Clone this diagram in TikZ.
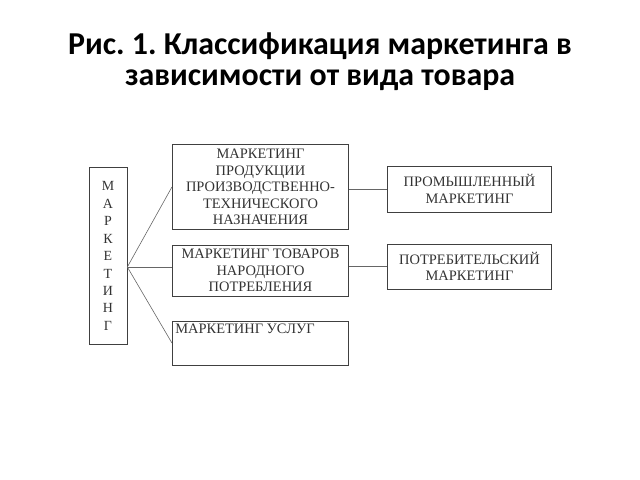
\documentclass[tikz,border=0pt]{standalone}
\usepackage{fontspec}
\setmainfont{Liberation Serif}
\newfontfamily\titlefont{Carlito}
\usetikzlibrary{positioning}

\begin{document}
\frenchspacing
\begin{tikzpicture}[x=1bp,y=-1bp,
  box/.style={draw=black!75,line width=0.8bp,rectangle,inner sep=0pt,
    text=black!80,align=center,font=\fontsize{14.5}{16.7}\selectfont},
  link/.style={draw=black!60,line width=0.6bp}]
\useasboundingbox (0,0) rectangle (640,480);

\node[font=\titlefont\bfseries\fontsize{32}{31}\selectfont,align=center] (title) at (320,62)
  {Рис. 1. Классификация маркетинга в\\зависимости от вида товара};

\path
(108,256)   node[box,minimum width=38,minimum height=178,font=\fontsize{14}{17.5}\selectfont] (mk)
  {М\\А\\Р\\К\\Е\\Т\\И\\Н\\Г}
(260.5,187) node[box,minimum width=177,minimum height=86] (b1)
  {МАРКЕТИНГ\\ПРОДУКЦИИ\\ПРОИЗВОДСТВЕННО-\\ТЕХНИЧЕСКОГО\\НАЗНАЧЕНИЯ}
(260.5,270.5) node[box,minimum width=177,minimum height=51] (b2)
  {МАРКЕТИНГ ТОВАРОВ\\НАРОДНОГО\\ПОТРЕБЛЕНИЯ}
(260.5,343) node[box,minimum width=177,minimum height=44] (b3) {}
(469.5,189) node[box,minimum width=165,minimum height=46] (b4)
  {ПРОМЫШЛЕННЫЙ\\МАРКЕТИНГ}
(469.5,266.5) node[box,minimum width=165,minimum height=45] (b5)
  {ПОТРЕБИТЕЛЬСКИЙ\\МАРКЕТИНГ};

\node[box,draw=none,anchor=north west] (b3t) at ([xshift=3,yshift=-3]b3.north west) {МАРКЕТИНГ УСЛУГ};

\coordinate (fork) at (mk.east |- 0,267);
\draw[link] (fork) -- (b1.west);
\draw[link] (fork) -- (b2.west |- fork);
\draw[link] (fork) -- (b3.west);
\draw[link] (b4.west) -- (b4.west -| b1.east);
\draw[link] (b5.west) -- (b5.west -| b2.east);
\end{tikzpicture}
\end{document}
